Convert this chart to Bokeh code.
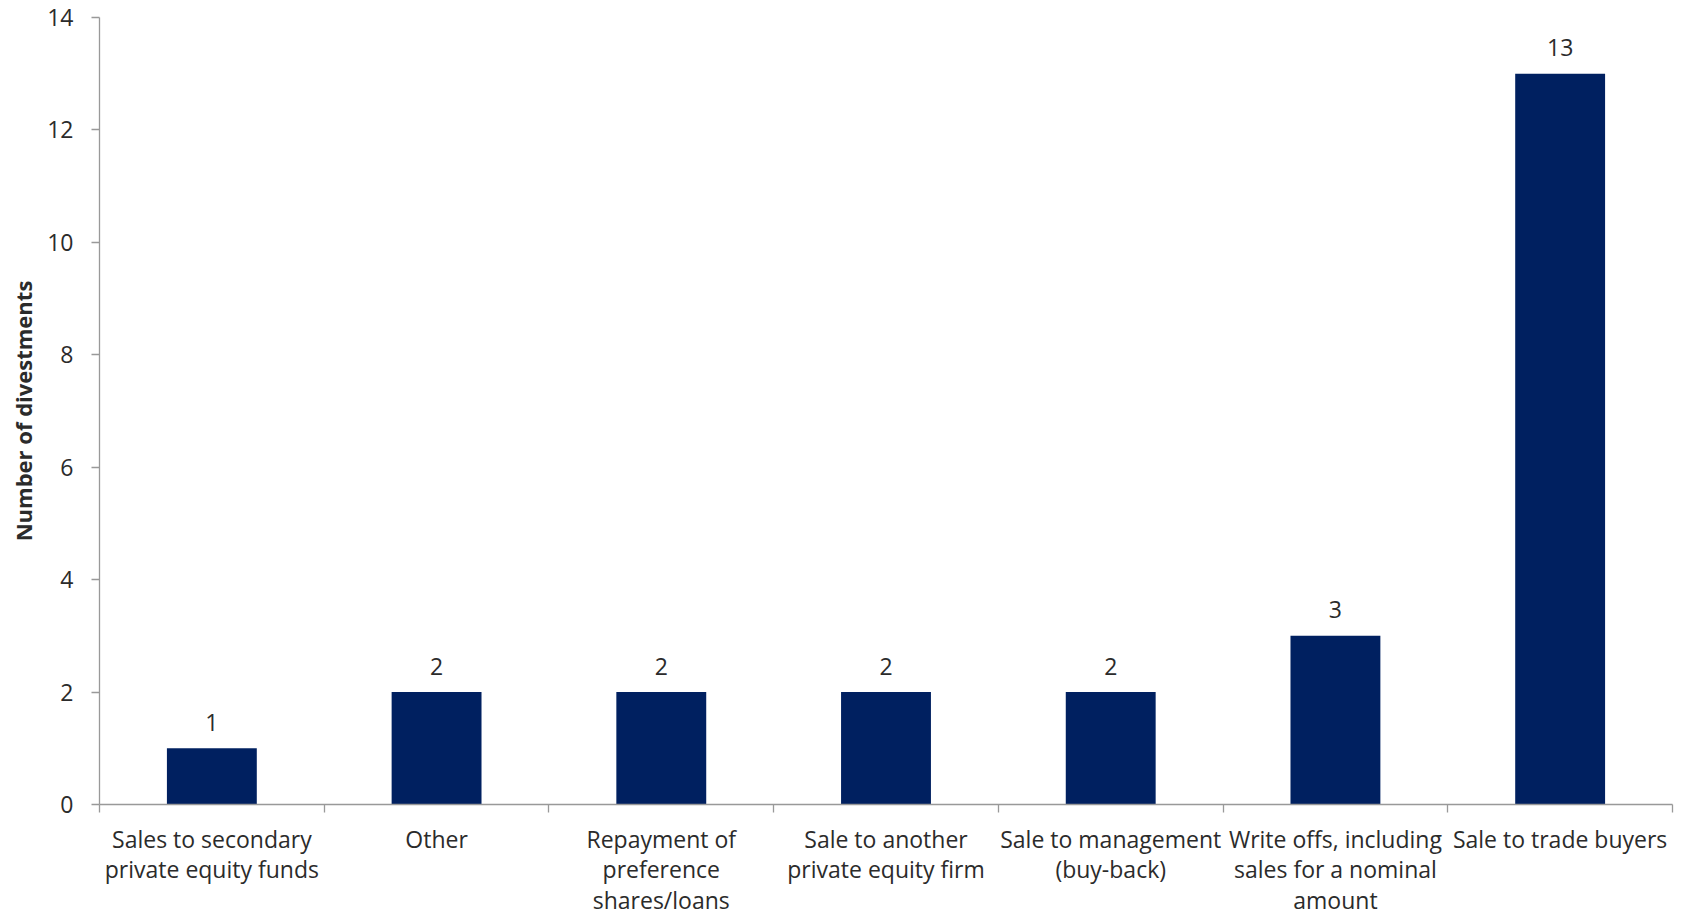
from bokeh.plotting import figure
from bokeh.models import ColumnDataSource, Range1d, FixedTicker
from bokeh.embed import file_html
from bokeh.resources import INLINE
from bokeh.core.properties import value

# ---- data ----
categories = [
    "Sales to secondary private equity funds",
    "Other",
    "Repayment of preference shares/loans",
    "Sale to another private equity firm",
    "Sale to management (buy-back)",
    "Write offs, including sales for a nominal amount",
    "Sale to trade buyers",
]
category_labels = [
    "Sales to secondary\nprivate equity funds",
    "Other",
    "Repayment of\npreference\nshares/loans",
    "Sale to another\nprivate equity firm",
    "Sale to management\n(buy-back)",
    "Write offs, including\nsales for a nominal\namount",
    "Sale to trade buyers",
]
divestments = [1, 2, 2, 2, 2, 3, 13]
y_ticks = [0, 2, 4, 6, 8, 10, 12, 14]
y_title = "Number of divestments"

FONT = "Open Sans"
FS = "23px"
TEXT_COLOR = "#2b2b2b"
AXIS_COLOR = "#999999"
BAR_COLOR = "#002060"

n = len(categories)
xpos = [i + 0.5 for i in range(n)]
src = ColumnDataSource(dict(
    x=xpos,
    top=divestments,
    lbl=[str(v) for v in divestments],
))

p = figure(
    width=1683, height=918,
    output_backend="svg", toolbar_location=None,
    x_range=Range1d(0, n), y_range=Range1d(y_ticks[0], y_ticks[-1]),
    min_border_left=99, min_border_right=11,
    min_border_top=17, min_border_bottom=112,
)
p.xgrid.visible = False
p.ygrid.visible = False
p.outline_line_color = None
p.background_fill_color = "white"
p.border_fill_color = "white"

p.vbar(x="x", top="top", width=0.4, source=src,
       fill_color=BAR_COLOR, line_color=None)
p.text(x="x", y="top", text="lbl", source=src,
       text_align="center", text_baseline="alphabetic", y_offset=-26,
       text_font=value(FONT), text_font_size=FS, text_color=TEXT_COLOR)

# x axis
xa = p.xaxis[0]
xa.ticker = FixedTicker(ticks=xpos, minor_ticks=list(range(n + 1)))
xa.major_label_overrides = {x: l for x, l in zip(xpos, category_labels)}
xa.major_tick_line_color = None
xa.minor_tick_line_color = AXIS_COLOR
xa.minor_tick_line_width = 1.3
xa.minor_tick_in = 0
xa.minor_tick_out = 8
xa.axis_line_color = AXIS_COLOR
xa.axis_line_width = 1.3
xa.major_label_standoff = 10
xa.major_label_text_font = FONT
xa.major_label_text_font_size = FS
xa.major_label_text_color = TEXT_COLOR
xa.major_label_text_line_height = 0.96

# y axis
ya = p.yaxis[0]
ya.ticker = FixedTicker(ticks=y_ticks)
ya.major_tick_in = 0
ya.major_tick_out = 8
ya.major_tick_line_color = AXIS_COLOR
ya.major_tick_line_width = 1.3
ya.minor_tick_line_color = None
ya.axis_line_color = AXIS_COLOR
ya.axis_line_width = 1.3
ya.major_label_standoff = 18
ya.major_label_text_font = FONT
ya.major_label_text_font_size = FS
ya.major_label_text_color = TEXT_COLOR
ya.axis_label = y_title
ya.axis_label_text_font = FONT
ya.axis_label_text_font_size = "22px"
ya.axis_label_text_font_style = "bold"
ya.axis_label_text_color = TEXT_COLOR
ya.axis_label_standoff = 6

open("out.html", "w").write(file_html(p, INLINE))
